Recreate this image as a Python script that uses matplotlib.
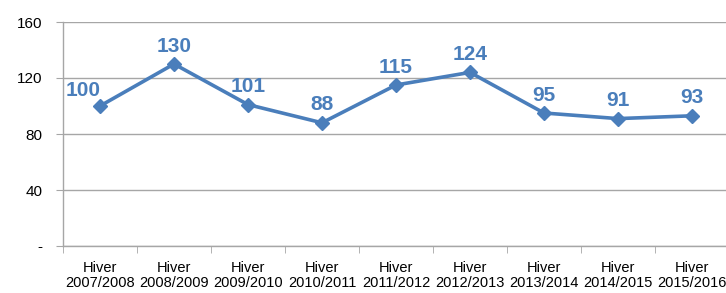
import matplotlib
matplotlib.use("Agg")
import matplotlib.pyplot as plt
import numpy as np

categories = ["Hiver\n2007/2008", "Hiver\n2008/2009", "Hiver\n2009/2010", "Hiver\n2010/2011",
              "Hiver\n2011/2012", "Hiver\n2012/2013", "Hiver\n2013/2014", "Hiver\n2014/2015",
              "Hiver\n2015/2016"]
values = [100, 130, 101, 88, 115, 124, 95, 91, 93]
yticks = [0, 40, 80, 120, 160]
ytick_labels = ["-", "40", "80", "120", "160"]

plt.rcParams['font.family'] = ['Liberation Sans', 'DejaVu Sans']
blue = "#4A7EBB"
grid = "#A6A6A6"

fig = plt.figure(figsize=(7.26, 2.93), dpi=100)
ax = fig.add_axes([63/726, 47/293, 666/726, 224/293])
x = np.arange(len(values))
ax.plot(x, values, color=blue, lw=2.6, marker="D", ms=7, zorder=3, clip_on=False)
for i, v in enumerate(values):
    if i == 0:
        off = (-12, 4)
    else:
        off = (0, 6)
    ax.annotate(str(v), (i, v), xytext=off, textcoords="offset points",
                ha="center", va="bottom", color=blue, fontsize=15, fontweight="bold")

ax.set_xlim(-0.5, len(values) - 0.5)
ax.set_ylim(0, 160)
ax.set_yticks(yticks)
ax.set_yticklabels(ytick_labels, fontsize=11)
ax.yaxis.grid(True, color=grid, lw=1)
ax.set_axisbelow(True)
ax.set_xticks(x)
ax.set_xticklabels(categories, fontsize=10.5, linespacing=1.1)
ax.set_xticks(np.arange(-0.5, len(values)), minor=True)
ax.tick_params(axis="x", which="major", length=0, pad=11)
ax.tick_params(axis="x", which="minor", length=5, color=grid, direction="out")
ax.tick_params(axis="y", length=5, color=grid, pad=10)
for s in ["top", "right"]:
    ax.spines[s].set_visible(False)
for s in ["left", "bottom"]:
    ax.spines[s].set_color(grid)
    ax.spines[s].set_linewidth(1)

fig.savefig("out.png", dpi=100)
